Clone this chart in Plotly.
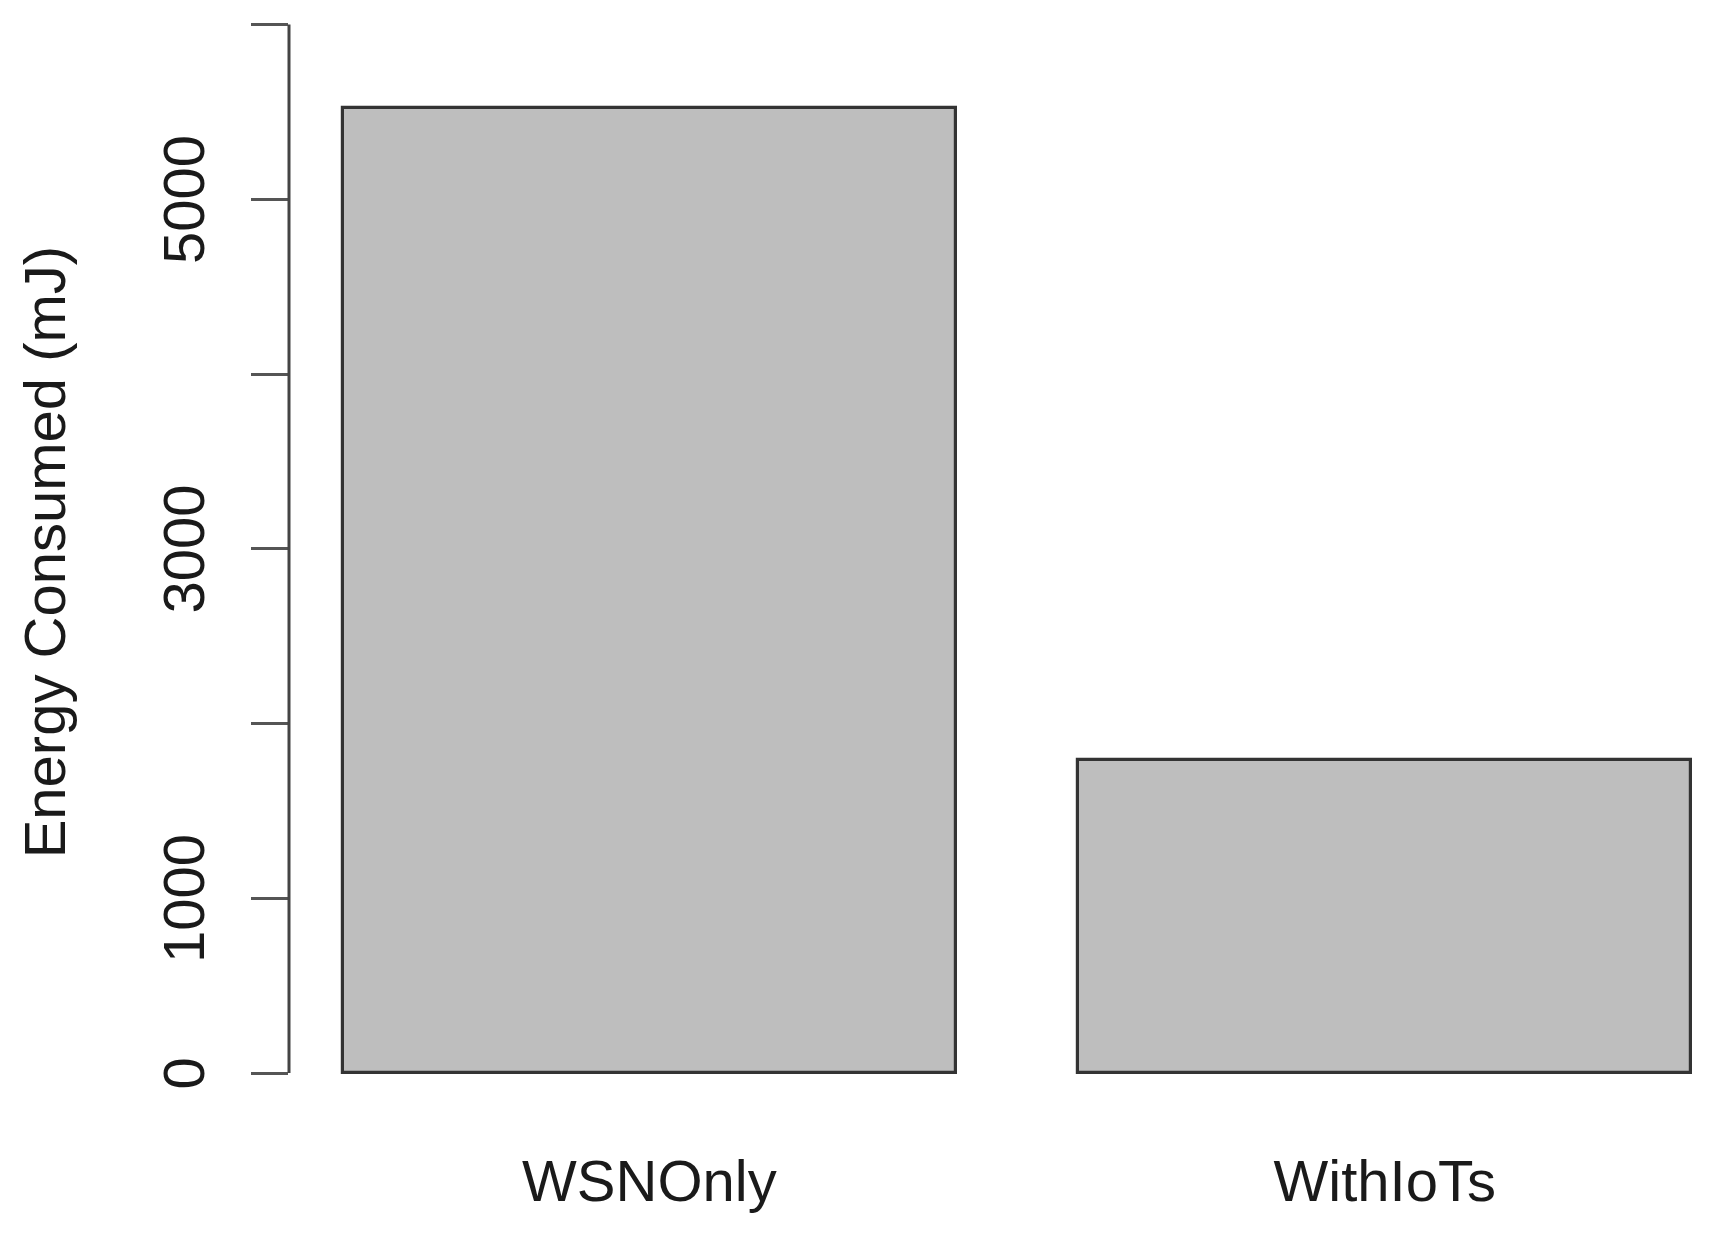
import plotly.graph_objects as go

categories = ["WSNOnly", "WithIoTs"]
energy_mj = [5520, 1790]
y_tick_vals = [0, 1000, 2000, 3000, 4000, 5000, 6000]
y_tick_text = ["0", "1000", "", "3000", "", "5000", ""]
y_title = "Energy Consumed (mJ)"

OFF = 8  # browser body margin
W, H = 1726 - OFF, 1236 - OFF
L, R, T = 288.5 - OFF, 0, 14.3 - OFF
B = H - (1115.2 - OFF)
FONT = "Liberation Sans, Arial, sans-serif"

fig = go.Figure()
fig.add_trace(go.Bar(
    x=categories,
    y=energy_mj,
    width=1 / 1.2,
    marker=dict(color="#bebebe", line=dict(color="#333333", width=3.2)),
    showlegend=False,
))

# y axis line from 0 to 6000 (R-style axis)
fig.add_shape(type="line", xref="paper", yref="y", x0=0, x1=0,
              y0=y_tick_vals[0], y1=y_tick_vals[-1],
              line=dict(color="#444444", width=3))

plot_h = H - B - T
fig.add_annotation(
    text=y_title, textangle=-90, showarrow=False,
    xref="paper", yref="paper",
    x=((44 - OFF) - L) / (W - L - R),
    y=((H - B) - (553 - OFF)) / plot_h,
    xanchor="center", yanchor="middle",
    font=dict(family=FONT, size=58, color="#1a1a1a"),
)

fig.update_layout(
    width=W, height=H,
    margin=dict(l=L, r=R, t=T, b=B, pad=0),
    paper_bgcolor="white", plot_bgcolor="white",
    bargap=0,
    xaxis=dict(
        range=[-0.49, 1.464], showline=False, showgrid=False, zeroline=False,
        ticks="", tickfont=dict(family=FONT, size=58, color="#1a1a1a"),
        ticklabelstandoff=27,
    ),
    yaxis=dict(
        range=[-240, 6060], showline=False, showgrid=False, zeroline=False,
        tickmode="array", tickvals=y_tick_vals, ticktext=y_tick_text,
        ticks="outside", ticklen=37, tickwidth=3, tickcolor="#555555",
        tickangle=-90, ticklabelstandoff=24, ticklabelshift=9,
        tickfont=dict(family=FONT, size=58, color="#1a1a1a"),
    ),
)

fig.write_html("out.html")
